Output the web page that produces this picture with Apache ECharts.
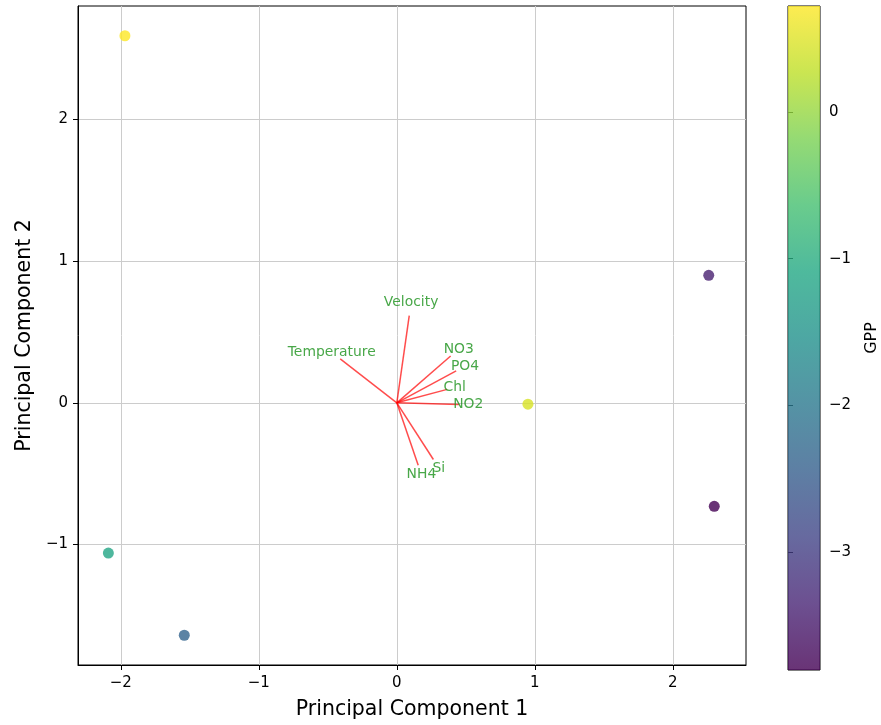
<!DOCTYPE html>
<html>
<head>
<meta charset="utf-8">
<script src="https://cdn.jsdelivr.net/npm/echarts@6/dist/echarts.min.js"></script>
<style>
  html, body { margin: 0; padding: 0; background: #fff; }
  #chart { width: 881px; height: 725px; }
</style>
</head>
<body>
<div id="chart"></div>
<script>
// Sample scores on the first two principal components, coloured by GPP
const pc1 = [-1.97, 2.26, 0.95, 2.30, -2.09, -1.54];
const pc2 = [2.59, 0.90, -0.01, -0.73, -1.06, -1.64];
const gpp = [0.72, -3.40, 0.45, -3.80, -1.15, -2.35];

// Variable loadings (biplot vectors)
const variables = ['Velocity', 'Temperature', 'NO3', 'PO4', 'Chl', 'NO2', 'Si', 'NH4'];
const loadPC1 = [0.09, -0.41, 0.39, 0.43, 0.365, 0.45, 0.265, 0.155];
const loadPC2 = [0.615, 0.31, 0.33, 0.225, 0.095, -0.012, -0.40, -0.44];

// Tick values
const xTicks = [-2, -1, 0, 1, 2];
const yTicks = [-1, 0, 1, 2];
const cbarTicks = [-3, -2, -1, 0];

// Variable names sit a little beyond the tip of each vector
const LABEL_SCALE = 1.15;

const viridis = ['#440154', '#482475', '#414487', '#355f8d', '#2a788e', '#21918c',
                 '#22a884', '#44bf70', '#7ad151', '#bddf26', '#fde725'];
const ALPHA = 0.8;

function rgba(hex, a) {
  const n = parseInt(hex.slice(1), 16);
  return 'rgba(' + ((n >> 16) & 255) + ',' + ((n >> 8) & 255) + ',' + (n & 255) + ',' + a + ')';
}

const gMin = Math.min(...gpp);
const gMax = Math.max(...gpp);

const FONT = 'DejaVu Sans';
const minus = v => String(v).replace('-', '\u2212');

const chart = echarts.init(document.getElementById('chart'), null, { renderer: 'canvas' });

const series = [];

// Scores
series.push({
  type: 'scatter',
  xAxisIndex: 0, yAxisIndex: 0,
  symbolSize: 11,
  itemStyle: { opacity: ALPHA },
  data: pc1.map((x, i) => [x, pc2[i], gpp[i]]),
  z: 3
});

// Loading vectors
variables.forEach((name, i) => {
  series.push({
    type: 'line',
    xAxisIndex: 0, yAxisIndex: 0,
    symbol: 'none',
    silent: true,
    lineStyle: { color: 'rgba(255,0,0,0.7)', width: 1.5 },
    data: [[0, 0], [loadPC1[i], loadPC2[i]]],
    z: 4
  });
});

// Variable names
series.push({
  type: 'scatter',
  xAxisIndex: 0, yAxisIndex: 0,
  symbolSize: 0,
  silent: true,
  data: variables.map((name, i) => ({
    name: name,
    value: [loadPC1[i] * LABEL_SCALE, loadPC2[i] * LABEL_SCALE]
  })),
  label: {
    show: true,
    position: 'inside',
    formatter: p => p.name,
    color: '#1a911a',
    fontFamily: FONT,
    fontSize: 13.9
  },
  z: 5
});

// Colour bar body
series.push({
  type: 'custom',
  xAxisIndex: 1, yAxisIndex: 1,
  silent: true,
  data: [[0, gMin, 1, gMax]],
  renderItem: (params, api) => {
    const p0 = api.coord([api.value(0), api.value(3)]);
    const p1 = api.coord([api.value(2), api.value(1)]);
    const stops = viridis.map((c, k) => ({
      offset: 1 - k / (viridis.length - 1),
      color: rgba(c, ALPHA)
    })).reverse();
    return {
      type: 'rect',
      shape: { x: p0[0], y: p0[1], width: p1[0] - p0[0], height: p1[1] - p0[1] },
      style: { fill: new echarts.graphic.LinearGradient(0, 0, 0, 1, stops) }
    };
  }
});

const tickLabel = { fontFamily: FONT, fontSize: 15, color: '#000' };

chart.setOption({
  animation: false,
  backgroundColor: '#fff',
  grid: [
    { left: 78, right: 135, top: 6, bottom: 55, show: true, borderColor: '#000', borderWidth: 1, backgroundColor: 'transparent' },
    { left: 788, width: 33, top: 6, bottom: 55, show: true, borderColor: '#000', borderWidth: 1, backgroundColor: 'transparent' }
  ],
  visualMap: {
    type: 'continuous',
    show: false,
    seriesIndex: 0,
    dimension: 2,
    min: gMin,
    max: gMax,
    inRange: { color: viridis }
  },
  xAxis: [
    {
      type: 'value', gridIndex: 0, min: -2.31, max: 2.53,
      axisLine: { show: true, onZero: false, lineStyle: { color: '#000' } },
      axisTick: { show: true, length: 5, customValues: xTicks, lineStyle: { color: '#000' } },
      axisLabel: { customValues: xTicks, formatter: minus, margin: 11, ...tickLabel },
      splitLine: { show: true, customValues: xTicks, lineStyle: { color: '#cccccc', width: 1 } },
      name: 'Principal Component 1', nameLocation: 'middle', nameGap: 34,
      nameTextStyle: { fontFamily: FONT, fontSize: 20.5, color: '#000' }
    },
    {
      type: 'value', gridIndex: 1, min: 0, max: 1, show: false
    }
  ],
  yAxis: [
    {
      type: 'value', gridIndex: 0, min: -1.85, max: 2.80,
      axisLine: { show: true, onZero: false, lineStyle: { color: '#000' } },
      axisTick: { show: true, length: 5, customValues: yTicks, lineStyle: { color: '#000' } },
      axisLabel: { customValues: yTicks, formatter: minus, margin: 10, ...tickLabel },
      splitLine: { show: true, customValues: yTicks, lineStyle: { color: '#cccccc', width: 1 } },
      name: 'Principal Component 2', nameLocation: 'middle', nameGap: 38, nameRotate: 90,
      nameTextStyle: { fontFamily: FONT, fontSize: 20.5, color: '#000' }
    },
    {
      type: 'value', gridIndex: 1, min: gMin, max: gMax, position: 'right',
      axisLine: { show: false },
      axisTick: { show: true, length: 5, customValues: cbarTicks, lineStyle: { color: '#000' } },
      axisLabel: { customValues: cbarTicks, formatter: minus, margin: 9, ...tickLabel },
      splitLine: { show: false },
      name: 'GPP', nameLocation: 'middle', nameGap: 44, nameRotate: 90,
      nameTextStyle: { fontFamily: FONT, fontSize: 16, color: '#000' }
    }
  ],
  series: series
});
</script>
</body>
</html>
